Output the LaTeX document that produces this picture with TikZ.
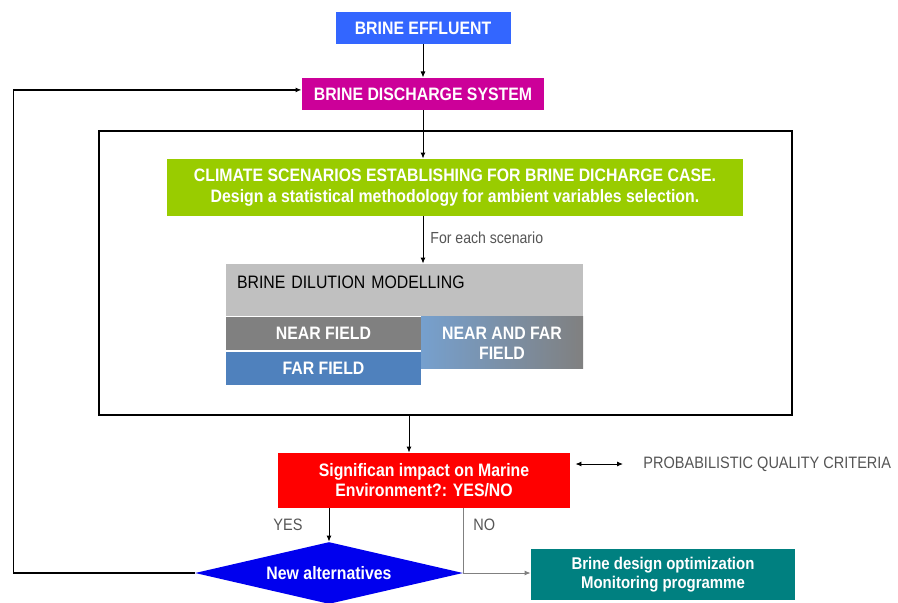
\documentclass[tikz,border=0pt]{standalone}
\usepackage{fontspec}
\setmainfont[FakeStretch=0.88]{Liberation Sans}
\usepackage{tikz}
\usetikzlibrary{shapes.geometric,positioning,calc,scopes,arrows.meta}
\definecolor{effluentc}{HTML}{3366FF}
\definecolor{dischargec}{HTML}{CC0099}
\definecolor{climatec}{HTML}{99CC00}
\definecolor{modelc}{HTML}{C0C0C0}
\definecolor{nearc}{HTML}{808080}
\definecolor{farc}{HTML}{4F81BD}
\definecolor{mixc}{HTML}{76A0CE}
\definecolor{impactc}{HTML}{FF0000}
\definecolor{altc}{HTML}{0000EE}
\definecolor{designc}{HTML}{008080}
\definecolor{lblc}{HTML}{555555}

\tikzset{
  brine chart/.style = {
    x = 1pt, y = -1pt,
    line width    = 0.9pt,
    % boxes
    bx/.style  = {
      draw=none, inner sep=0pt,
      align=center, text=white,
      font=\fontsize{18}{20}\selectfont\bfseries
    },
    bx two/.style = { bx, font=\fontsize{18}{21}\selectfont\bfseries },
    bx small/.style = { bx, font=\fontsize{17}{19}\selectfont\bfseries },
    % plain texts
    lbl/.style = { inner sep=0pt, anchor=west, text=lblc,
      font=\fontsize{16.5}{18}\selectfont },
    % lines, arrows
    connect line/.style = { -{Latex[length=6pt,width=5pt]} },
    both line/.style    = { {Latex[length=6pt,width=5pt]}-{Latex[length=6pt,width=5pt]} },
    no line/.style      = { draw=black!50 },
    back line/.style    = { connect line, line width=1.3pt },
    frame line/.style   = { draw, line width=2.6pt },
  }
}

\begin{document}
\begin{tikzpicture}[brine chart]
	\useasboundingbox[fill=white] (0,0) rectangle (898,603);

	\node[bx, fill=effluentc, minimum width=175pt, minimum height=32pt] (effluent) at (423,28) {BRINE EFFLUENT};
	\node[bx, fill=dischargec, minimum width=242pt, minimum height=32pt,
	      below=33pt of effluent] (discharge) {BRINE DISCHARGE SYSTEM};

	\node[frame line, minimum width=693pt, minimum height=284pt] (frame) at (445.5,273) {};

	\node[bx two, fill=climatec, minimum width=576pt, minimum height=57pt] (climate) at (455,187.5)
	     {CLIMATE SCENARIOS ESTABLISHING FOR BRINE DICHARGE CASE.\\
	      Design a statistical methodology for ambient variables selection.};

	\node[fill=modelc, minimum width=357pt, text width=335pt, align=left,
	      inner xsep=11pt, inner ysep=11pt,
	      text height=13pt, text depth=17pt,
	      font=\fontsize{18}{20}\selectfont] (dilution) at (404.5,290) {BRINE DILUTION MODELLING};

	{ [field/.style={bx, minimum width=195pt, minimum height=33pt}]
		\node[field, fill=nearc, anchor=north west] (nearfield) at (dilution.south west) {NEAR FIELD};
		\node[field, fill=farc, below=1pt of nearfield] (farfield) {FAR FIELD};
		\node[field, left color=mixc, right color=nearc, minimum width=162pt, minimum height=52pt,
		      anchor=north east] (nearfar) at (dilution.south east) {NEAR AND FAR\\FIELD};
	}

	\node[lbl, font=\fontsize{16}{18}\selectfont] (each) at (430,238) {For each scenario};

	\node[bx, fill=impactc, minimum width=292pt, minimum height=55pt] (impact) at (424,480.5)
	     {Significan impact on Marine\\Environment?: YES/NO};
	\node[lbl] (quality) at (643,464) {PROBABILISTIC QUALITY CRITERIA};

	\node[bx, diamond, fill=altc, minimum width=268pt, minimum height=62pt, aspect=4.3]
	     (alternatives) at (329,573) {New alternatives};
	\node[bx small, fill=designc, minimum width=264pt, minimum height=51pt] (design) at (663,574.5)
	     {Brine design optimization\\Monitoring programme};

	\node[lbl] (yes) at (273,525) {YES};
	\node[lbl] (no)  at (473,525) {NO};

	\draw[connect line] (effluent) -- (discharge);
	\draw[connect line] (discharge) -- (discharge |- climate.north);
	\draw[connect line] (climate.south -| discharge) -- (dilution.north -| discharge);

	\coordinate (drop) at (409,0);
	\draw[connect line] (frame.south -| drop) -- (impact.north -| drop);

	\draw[both line] ([xshift=5pt]impact.east |- quality.west) -- ([xshift=-20pt]quality.west);

	\draw[connect line] (impact.south -| alternatives.north) -- (alternatives.north);
	\draw[no line] (impact.south -| alternatives.east) -- (alternatives.east);
	\draw[no line, connect line] (alternatives.east) -- (design.west |- alternatives.east);

	\draw[back line] (alternatives.west) -- ++(-181,0) |- ([yshift=4pt]discharge.west);

\end{tikzpicture}
\end{document}
